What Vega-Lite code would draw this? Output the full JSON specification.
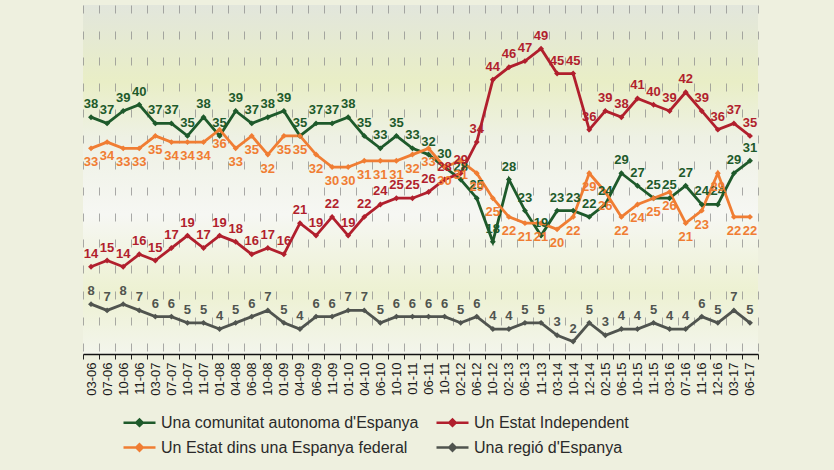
{
 "$schema": "https://vega.github.io/schema/vega-lite/v6.json",
 "width": 675, "height": 349,
 "autosize": {"type": "none"},
 "padding": {"left": 83, "top": 5, "right": 76, "bottom": 116},
 "background": "#eef0df",
 "config": {"view": {"stroke": null, "fill": {"gradient": "linear", "x1": 0, "y1": 0, "x2": 0, "y2": 1, "stops": [{"offset": 0, "color": "#e2e6dc"}, {"offset": 0.22, "color": "#e9eec6"}, {"offset": 0.38, "color": "#eef1e4"}, {"offset": 0.6, "color": "#f6f7f3"}, {"offset": 0.82, "color": "#edf1d2"}, {"offset": 1, "color": "#f3f5ec"}]}}, "font": "Liberation Sans"},
 "data": {"values": [
{"d":"03-06","s":"A","v":38},{"d":"07-06","s":"A","v":37},{"d":"10-06","s":"A","v":39},{"d":"11-06","s":"A","v":40},{"d":"03-07","s":"A","v":37},{"d":"07-07","s":"A","v":37},{"d":"10-07","s":"A","v":35},{"d":"11-07","s":"A","v":38},{"d":"01-08","s":"A","v":35},{"d":"04-08","s":"A","v":39},{"d":"06-08","s":"A","v":37},{"d":"10-08","s":"A","v":38},{"d":"01-09","s":"A","v":39},{"d":"04-09","s":"A","v":35},{"d":"06-09","s":"A","v":37},{"d":"11-09","s":"A","v":37},{"d":"01-10","s":"A","v":38},{"d":"04-10","s":"A","v":35},{"d":"06-10","s":"A","v":33},{"d":"10-10","s":"A","v":35},{"d":"01-11","s":"A","v":33},{"d":"06-11","s":"A","v":32},{"d":"10-11","s":"A","v":30},{"d":"02-12","s":"A","v":28},{"d":"06-12","s":"A","v":25},{"d":"10-12","s":"A","v":18},{"d":"02-13","s":"A","v":28},{"d":"06-13","s":"A","v":23},{"d":"11-13","s":"A","v":19},{"d":"03-14","s":"A","v":23},{"d":"10-14","s":"A","v":23},{"d":"12-14","s":"A","v":22},{"d":"02-15","s":"A","v":24},{"d":"06-15","s":"A","v":29},{"d":"10-15","s":"A","v":27},{"d":"11-15","s":"A","v":25},{"d":"03-16","s":"A","v":25},{"d":"07-16","s":"A","v":27},{"d":"11-16","s":"A","v":24},{"d":"12-16","s":"A","v":24},{"d":"03-17","s":"A","v":29},{"d":"06-17","s":"A","v":31},
{"d":"03-06","s":"B","v":14},{"d":"07-06","s":"B","v":15},{"d":"10-06","s":"B","v":14},{"d":"11-06","s":"B","v":16},{"d":"03-07","s":"B","v":15},{"d":"07-07","s":"B","v":17},{"d":"10-07","s":"B","v":19},{"d":"11-07","s":"B","v":17},{"d":"01-08","s":"B","v":19},{"d":"04-08","s":"B","v":18},{"d":"06-08","s":"B","v":16},{"d":"10-08","s":"B","v":17},{"d":"01-09","s":"B","v":16},{"d":"04-09","s":"B","v":21},{"d":"06-09","s":"B","v":19},{"d":"11-09","s":"B","v":22},{"d":"01-10","s":"B","v":19},{"d":"04-10","s":"B","v":22},{"d":"06-10","s":"B","v":24},{"d":"10-10","s":"B","v":25},{"d":"01-11","s":"B","v":25},{"d":"06-11","s":"B","v":26},{"d":"10-11","s":"B","v":28},{"d":"02-12","s":"B","v":29},{"d":"06-12","s":"B","v":34},{"d":"10-12","s":"B","v":44},{"d":"02-13","s":"B","v":46},{"d":"06-13","s":"B","v":47},{"d":"11-13","s":"B","v":49},{"d":"03-14","s":"B","v":45},{"d":"10-14","s":"B","v":45},{"d":"12-14","s":"B","v":36},{"d":"02-15","s":"B","v":39},{"d":"06-15","s":"B","v":38},{"d":"10-15","s":"B","v":41},{"d":"11-15","s":"B","v":40},{"d":"03-16","s":"B","v":39},{"d":"07-16","s":"B","v":42},{"d":"11-16","s":"B","v":39},{"d":"12-16","s":"B","v":36},{"d":"03-17","s":"B","v":37},{"d":"06-17","s":"B","v":35},
{"d":"03-06","s":"C","v":33},{"d":"07-06","s":"C","v":34},{"d":"10-06","s":"C","v":33},{"d":"11-06","s":"C","v":33},{"d":"03-07","s":"C","v":35},{"d":"07-07","s":"C","v":34},{"d":"10-07","s":"C","v":34},{"d":"11-07","s":"C","v":34},{"d":"01-08","s":"C","v":36},{"d":"04-08","s":"C","v":33},{"d":"06-08","s":"C","v":35},{"d":"10-08","s":"C","v":32},{"d":"01-09","s":"C","v":35},{"d":"04-09","s":"C","v":35},{"d":"06-09","s":"C","v":32},{"d":"11-09","s":"C","v":30},{"d":"01-10","s":"C","v":30},{"d":"04-10","s":"C","v":31},{"d":"06-10","s":"C","v":31},{"d":"10-10","s":"C","v":31},{"d":"01-11","s":"C","v":32},{"d":"06-11","s":"C","v":33},{"d":"10-11","s":"C","v":30},{"d":"02-12","s":"C","v":31},{"d":"06-12","s":"C","v":29},{"d":"10-12","s":"C","v":25},{"d":"02-13","s":"C","v":22},{"d":"06-13","s":"C","v":21},{"d":"11-13","s":"C","v":21},{"d":"03-14","s":"C","v":20},{"d":"10-14","s":"C","v":22},{"d":"12-14","s":"C","v":29},{"d":"02-15","s":"C","v":26},{"d":"06-15","s":"C","v":22},{"d":"10-15","s":"C","v":24},{"d":"11-15","s":"C","v":25},{"d":"03-16","s":"C","v":26},{"d":"07-16","s":"C","v":21},{"d":"11-16","s":"C","v":23},{"d":"12-16","s":"C","v":29},{"d":"03-17","s":"C","v":22},{"d":"06-17","s":"C","v":22},
{"d":"03-06","s":"D","v":8},{"d":"07-06","s":"D","v":7},{"d":"10-06","s":"D","v":8},{"d":"11-06","s":"D","v":7},{"d":"03-07","s":"D","v":6},{"d":"07-07","s":"D","v":6},{"d":"10-07","s":"D","v":5},{"d":"11-07","s":"D","v":5},{"d":"01-08","s":"D","v":4},{"d":"04-08","s":"D","v":5},{"d":"06-08","s":"D","v":6},{"d":"10-08","s":"D","v":7},{"d":"01-09","s":"D","v":5},{"d":"04-09","s":"D","v":4},{"d":"06-09","s":"D","v":6},{"d":"11-09","s":"D","v":6},{"d":"01-10","s":"D","v":7},{"d":"04-10","s":"D","v":7},{"d":"06-10","s":"D","v":5},{"d":"10-10","s":"D","v":6},{"d":"01-11","s":"D","v":6},{"d":"06-11","s":"D","v":6},{"d":"10-11","s":"D","v":6},{"d":"02-12","s":"D","v":5},{"d":"06-12","s":"D","v":6},{"d":"10-12","s":"D","v":4},{"d":"02-13","s":"D","v":4},{"d":"06-13","s":"D","v":5},{"d":"11-13","s":"D","v":5},{"d":"03-14","s":"D","v":3},{"d":"10-14","s":"D","v":2},{"d":"12-14","s":"D","v":5},{"d":"02-15","s":"D","v":3},{"d":"06-15","s":"D","v":4},{"d":"10-15","s":"D","v":4},{"d":"11-15","s":"D","v":5},{"d":"03-16","s":"D","v":4},{"d":"07-16","s":"D","v":4},{"d":"11-16","s":"D","v":6},{"d":"12-16","s":"D","v":5},{"d":"03-17","s":"D","v":7},{"d":"06-17","s":"D","v":5}
 ]},
 "encoding": {
  "x": {"field": "d", "type": "ordinal", "sort": null, "bandPosition": 0.5,
   "scale": {"type": "band", "paddingInner": 0, "paddingOuter": 0},
   "axis": {"title": null, "labelAngle": -90, "labelFontSize": 13, "labelColor": "#1a1a1a", "labelPadding": 3,
    "tickBand": "extent", "tickColor": "#222", "tickSize": 5,
    "grid": true, "gridDash": [8, 18], "gridColor": "#888", "gridOpacity": 0.7,
    "domainColor": "#111", "domainWidth": 1.5}},
  "y": {"field": "v", "type": "quantitative", "scale": {"domain": [0, 56]}, "axis": null},
  "color": {"field": "s", "type": "nominal",
   "scale": {"domain": ["A", "B", "C", "D"], "range": ["#1e5a2b", "#b11f2d", "#f07d33", "#50544f"]},
   "legend": {"title": null, "orient": "none", "legendX": 45, "legendY": 406, "columns": 2, "direction": "horizontal",
    "labelExpr": "datum.value === 'A' ? 'Una comunitat autonoma d\\'Espanya' : datum.value === 'B' ? 'Un Estat Independent' : datum.value === 'C' ? 'Un Estat dins una Espanya federal' : 'Una regió d\\'Espanya'",
    "labelFontSize": 16, "labelColor": "#2a2a2a", "labelLimit": 400, "labelOffset": 10,
    "symbolType": "M-1.6,0L1.6,0M-0.32,0L0,-0.32L0.32,0L0,0.32Z", "symbolSize": 400, "symbolStrokeWidth": 2.5,
    "rowPadding": 5, "columnPadding": 12}}
 },
 "layer": [
  {"mark": {"type": "line", "strokeWidth": 2.8}},
  {"mark": {"type": "point", "shape": "diamond", "filled": true, "size": 35, "opacity": 1}},
  {"transform": [{"filter": "datum.s !== 'C'"}],
   "mark": {"type": "text", "dy": -13, "fontSize": 13, "fontWeight": "bold"},
   "encoding": {"text": {"field": "v", "type": "quantitative"}}},
  {"transform": [{"filter": "datum.s === 'C'"}],
   "mark": {"type": "text", "dy": 14, "fontSize": 13, "fontWeight": "bold"},
   "encoding": {"text": {"field": "v", "type": "quantitative"}}}
 ]
}
